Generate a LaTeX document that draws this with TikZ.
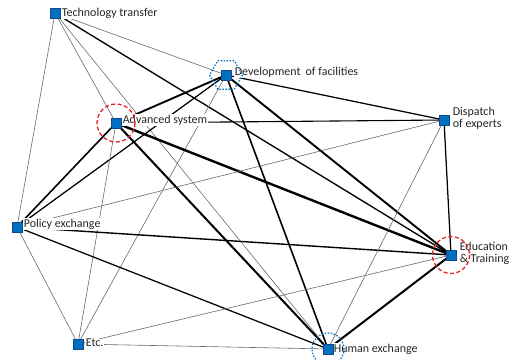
\documentclass[tikz,border=0pt]{standalone}
\usepackage{fontspec}
\setmainfont{Carlito}
\definecolor{nodeblue}{RGB}{0,112,192}
\definecolor{nodeedge}{RGB}{20,70,140}
\definecolor{thingray}{RGB}{105,105,105}
\definecolor{markred}{RGB}{235,30,35}
\begin{document}
\begin{tikzpicture}[x=1pt,y=-1pt,
  sq/.style={draw=nodeedge,fill=nodeblue,minimum size=9.5pt,inner sep=0pt,line width=0.5pt},
  lab/.style={font=\fontsize{12}{12}\selectfont,fill=white,inner sep=0.6pt,anchor=west,align=left,text=black!85},
  ea/.style={draw=thingray,line width=0.6pt},
  eb/.style={draw=black,line width=1.1pt},
  ec/.style={draw=black,line width=1.6pt},
  ed/.style={draw=black,line width=2.4pt},
  redring/.style={draw=markred,line width=1.3pt,dash pattern=on 4pt off 2.5pt},
  bluedots/.style={draw=nodeblue,line width=1.3pt,dash pattern=on 1.4pt off 1.6pt}]
\useasboundingbox (0,0) rectangle (517,359);
\clip (0,0) rectangle (517,359);
\coordinate (TT) at (55,13);
\coordinate (DF) at (226,75);
\coordinate (AS) at (116,123);
\coordinate (DE) at (444,120);
\coordinate (PE) at (17,227);
\coordinate (EDU) at (451,255);
\coordinate (ET) at (78,344);
\coordinate (HE) at (328,349);
% connectors
\draw[ea] (TT) -- (DF);
\draw[ea] (TT) -- (AS);
\draw[ea] (TT) -- (PE);
\draw[ea] (TT) -- (HE);
\draw[eb,line width=1.35pt] (TT) -- (EDU);
\draw[ec,line width=1.9pt] (DF) -- (AS);
\draw[eb,line width=1.25pt] (DF) -- (PE);
\draw[ea] (DF) -- (ET);
\draw[eb,line width=1.25pt] (DF) -- (DE);
\draw[ec,line width=1.9pt] (DF) -- (EDU);
\draw[ec,line width=1.6pt] (DF) -- (HE);
\draw[eb] (AS) -- (DE);
\draw[ed] (AS) -- (EDU);
\draw[ec,line width=2pt] (AS) -- (HE);
\draw[ec] (AS) -- (PE);
\draw[ea] (AS) -- (ET);
\draw[ea] (PE) -- (DE);
\draw[eb,line width=1.4pt] (PE) -- (EDU);
\draw[eb,line width=1.25pt] (PE) -- (HE);
\draw[ea] (PE) -- (ET);
\draw[ea] (DE) -- (HE);
\draw[eb,line width=1.25pt] (DE) -- (EDU);
\draw[ec,line width=2pt] (EDU) -- (HE);
\draw[ea] (EDU) -- (ET);
\draw[ea] (HE) -- (ET);
% labels
\node[lab] (lTT) at (61,13) {Technology transfer};
\node[lab] (lDF) at (234,72) {Development\hspace{0.2em} of facilities};
\node[lab] (lAS) at (122,120) {Advanced system};
\node[lab] (lDE) at (452,118) {Dispatch\\of experts};
\node[lab] (lPE) at (23,224) {Policy exchange};
\node[lab] (lEDU) at (459,253) {Education\\\& Training};
\node[lab] (lET) at (85,343) {Etc.};
\node[lab] (lHE) at (333,349) {Human exchange};
% markers
\node[sq] (sTT) at (TT) {};
\node[sq] (sDF) at (DF) {};
\node[sq] (sAS) at (AS) {};
\node[sq] (sDE) at (DE) {};
\node[sq] (sPE) at (PE) {};
\node[sq] (sEDU) at (EDU) {};
\node[sq] (sET) at (ET) {};
\node[sq] (sHE) at (HE) {};
% highlights
\draw[redring] (AS) circle (19);
\draw[redring] (EDU) circle (18.5);
\draw[bluedots] ([shift={(16.5,0)}]DF) -- ([shift={(8.25,14.3)}]DF) -- ([shift={(-8.25,14.3)}]DF) -- ([shift={(-16.5,0)}]DF) -- ([shift={(-8.25,-14.3)}]DF) -- ([shift={(8.25,-14.3)}]DF) -- cycle;
\draw[bluedots] (HE) circle (16);
\end{tikzpicture}
\end{document}
